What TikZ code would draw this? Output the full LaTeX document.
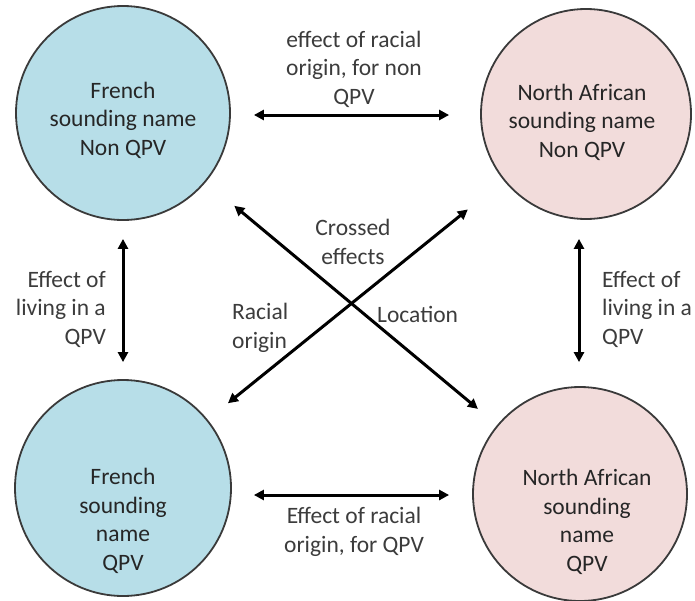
\documentclass[tikz,border=0pt]{standalone}
\usepackage{fontspec}
\setmainfont{Carlito}
\usetikzlibrary{arrows.meta}
\definecolor{cblue}{HTML}{B7DEE8}
\definecolor{cpink}{HTML}{F2DCDB}
\definecolor{edge}{HTML}{3A3A3A}
\definecolor{txt}{HTML}{3C3C3C}
\tikzset{
  circ/.style={circle, draw=edge, line width=1.8pt, inner sep=0pt},
  ctext/.style={align=center, text=black!85, font=\fontsize{23.5}{28.5}\selectfont},
  lab/.style={text=txt, font=\fontsize{23.5}{28.5}\selectfont, inner sep=0pt},
  arr/.style={line width=3pt, {Triangle[length=10pt,width=10pt]}-{Triangle[length=10pt,width=10pt]}}
}
\begin{document}
\begin{tikzpicture}[x=1pt,y=-1pt]
\useasboundingbox (0,0) rectangle (695,600);
\node[circ, fill=cblue, minimum size=214pt] (tl) at (123,113) {};
\node[circ, fill=cpink, minimum size=210pt] (tr) at (586,114) {};
\node[circ, fill=cblue, minimum size=216pt] (bl) at (123,488) {};
\node[circ, fill=cpink, minimum size=214pt] (br) at (580,494) {};
\node[ctext] (tlt) at (123,120) {French\\sounding name\\Non QPV};
\node[ctext] (trt) at (582,122) {North African\\sounding name\\Non QPV};
\node[ctext] (blt) at (123,521) {French\\sounding\\name\\QPV};
\node[ctext] (brt) at (587,522) {North African\\sounding\\name\\QPV};
\draw[arr, shorten <=23pt, shorten >=31pt] ([yshift=-2pt]tl.east) -- ([yshift=-1pt]tr.west);
\draw[arr, shorten <=22pt, shorten >=23pt] ([yshift=-7pt]bl.east) -- ([yshift=-1pt]br.west);
\draw[arr, shorten <=18pt, shorten >=17pt] (tl.south) -- (bl.north);
\draw[arr, shorten <=19pt, shorten >=24pt] ([xshift=-7pt]tr.south) -- ([xshift=-1pt]br.north);
\draw[arr, shorten <=37pt, shorten >=25pt] (tl) -- (br);
\draw[arr, shorten <=46pt, shorten >=26pt] (tr) -- (bl);
\node[lab, align=center] (top) at (354,69) {effect of racial\\origin, for non\\QPV};
\node[lab, align=center] (bot) at (354,532) {Effect of racial\\origin, for QPV};
\node[lab, align=right, anchor=east] (lv) at (106,309) {Effect of\\living in a\\QPV};
\node[lab, align=left, anchor=west] (rv) at (602,309) {Effect of\\living in a\\QPV};
\node[lab, align=center] (cr) at (353,242) {Crossed\\effects};
\node[lab, align=left, anchor=west] (ro) at (232,328) {Racial\\origin};
\node[lab, anchor=west] (loc) at (377,314) {Location};
\end{tikzpicture}
\end{document}
